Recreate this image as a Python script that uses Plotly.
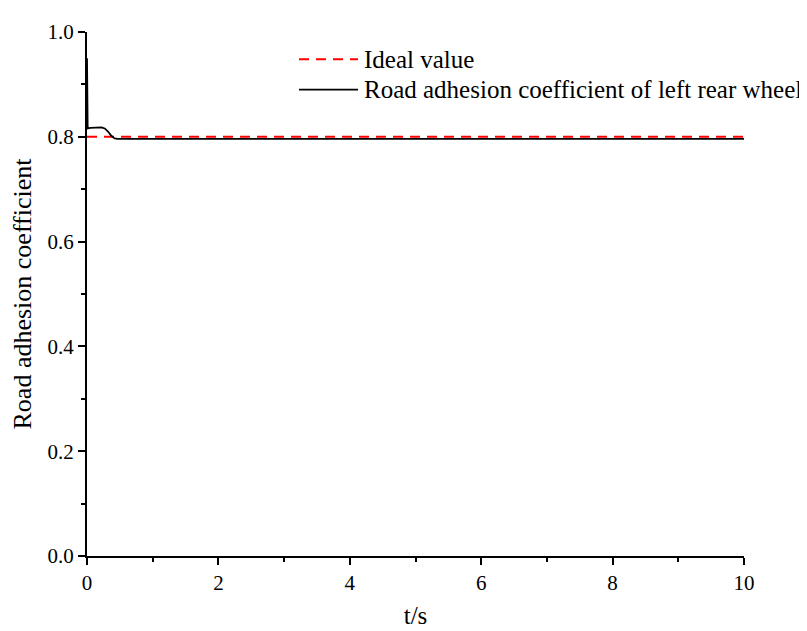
import plotly.graph_objects as go

# Data
t_ideal = [0, 10]
mu_ideal = [0.8, 0.8]

t_wheel = [0, 0.004, 0.01, 0.05, 0.15, 0.22, 0.27, 0.32, 0.37, 0.42, 0.47, 0.55,
           1.50, 1.53, 3.55, 3.58, 7.58, 7.62, 9.20, 9.25, 10]
mu_wheel = [0.95, 0.85, 0.816, 0.817, 0.818, 0.818, 0.816, 0.810, 0.802, 0.797, 0.796, 0.796,
            0.796, 0.797, 0.797, 0.796, 0.796, 0.797, 0.797, 0.796, 0.796]

x_ticks = [0, 2, 4, 6, 8, 10]
y_ticks = [0.0, 0.2, 0.4, 0.6, 0.8, 1.0]
y_tick_labels = ["0.0", "0.2", "0.4", "0.6", "0.8", "1.0"]

legend_names = ["Ideal value", "Road adhesion coefficient of left rear wheel"]

FONT = "Liberation Serif, Times New Roman, serif"

fig = go.Figure()
fig.add_trace(go.Scatter(x=t_ideal, y=mu_ideal, mode="lines", name=legend_names[0],
                         line=dict(color="#ff0000", width=2, dash="10px,7px")))
fig.add_trace(go.Scatter(x=t_wheel, y=mu_wheel, mode="lines", name=legend_names[1],
                         line=dict(color="#000000", width=1.8)))

# manual legend (paper coordinates)
leg_x0, leg_x1, txt_x = 0.3227, 0.4125, 0.418
leg_y = [0.9478, 0.8899]
leg_styles = [dict(color="#ff0000", width=2, dash="10px,7px"), dict(color="#000000", width=1.8)]
for name, yy, st in zip(legend_names, leg_y, leg_styles):
    fig.add_shape(type="line", xref="paper", yref="paper", x0=leg_x0, x1=leg_x1, y0=yy, y1=yy,
                  line=st)
    fig.add_annotation(xref="paper", yref="paper", x=txt_x, y=yy, text=name, showarrow=False,
                       xanchor="left", yanchor="middle",
                       font=dict(family=FONT, size=25, color="black"))

fig.update_layout(
    width=807, height=631,
    margin=dict(l=79, r=71, t=12, b=83),
    paper_bgcolor="white", plot_bgcolor="white",
    font=dict(family=FONT, size=20, color="black"),
    showlegend=False,
    xaxis=dict(range=[0, 10], tickvals=x_ticks, showgrid=False, zeroline=False,
               showline=True, linecolor="black", linewidth=2,
               ticks="outside", ticklen=7, tickwidth=2, tickcolor="black",
               minor=dict(dtick=1, ticks="outside", ticklen=4, tickwidth=2, tickcolor="black"),
               tickfont=dict(family=FONT, size=21), ticklabeloverflow="allow",
               title=dict(text="t/s", font=dict(family=FONT, size=25), standoff=12)),
    yaxis=dict(range=[0, 1.0], tickvals=y_ticks, ticktext=y_tick_labels, showgrid=False,
               zeroline=False, showline=True, linecolor="black", linewidth=2,
               ticks="outside", ticklen=7, tickwidth=2, tickcolor="black",
               minor=dict(dtick=0.1, ticks="outside", ticklen=4, tickwidth=2, tickcolor="black"),
               tickfont=dict(family=FONT, size=21), ticklabeloverflow="allow",
               title=dict(text="Road adhesion coefficient", font=dict(family=FONT, size=26),
                          standoff=8)),
)

fig.write_html("out.html")
